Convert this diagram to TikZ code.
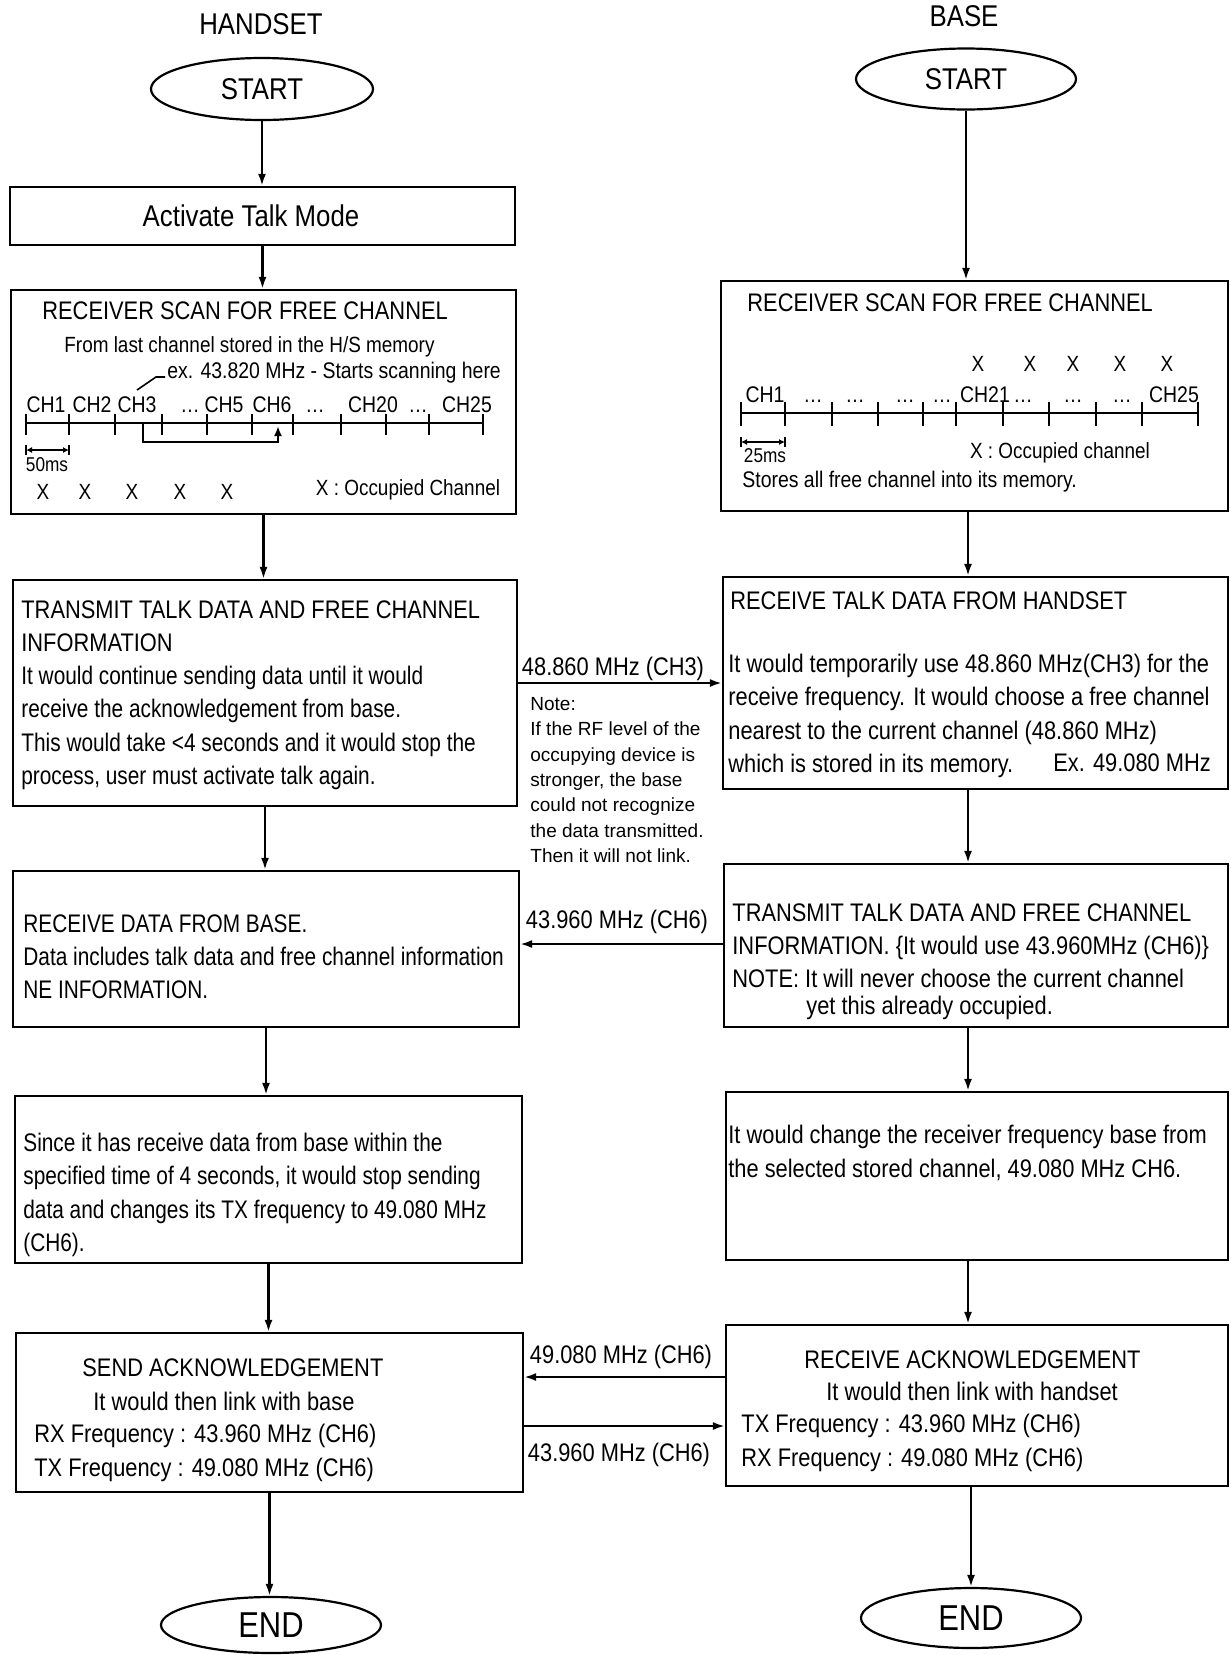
\documentclass[tikz,border=0pt]{standalone}
\usepackage{fontspec}
\setmainfont{Liberation Sans}[FakeStretch=0.86]
\newfontfamily\hsf{Liberation Sans}[FakeStretch=0.82]
\newfontfamily\notefont{Liberation Sans}
\usetikzlibrary{arrows.meta,shapes.geometric,fit}
\newcommand\fsz[2]{\fontsize{#1pt}{#2pt}\selectfont}
\begin{document}
\begin{tikzpicture}[x=0.5pt,y=-0.5pt,
  box/.style={draw,line width=1.1pt,inner sep=0pt},
  term/.style={draw,ellipse,line width=1.1pt,inner sep=0pt},
  arr/.style={line width=1.1pt,-{Latex[length=6pt,width=4pt]}},
  txt/.style={anchor=west,inner sep=0pt,align=left,font={\fsz{12.7}{16.6}}},
  lbl/.style={inner sep=0pt,font={\fsz{12.7}{16.6}}},
  sm/.style={inner sep=0pt,font={\fsz{11}{13}}},
  tiny/.style={inner sep=0pt,font={\fsz{10}{12}}},
  note/.style={anchor=west,inner sep=0pt,align=left,font={\notefont\fsz{9.5}{12.7}}},
  axis/.style={line width=1.1pt}]
\fill[white] (0,0) rectangle (1231,1655);
\useasboundingbox (0,0) rectangle (1231,1655);

% titles and terminals
\node[lbl,font={\fsz{15}{18}}] (hlab) at (261,24) {HANDSET};
\node[lbl,font={\fsz{15}{18}}] (blab) at (964,16) {BASE};
\node[term,minimum width=111pt,minimum height=31pt,font={\fsz{15}{18}}] (startH) at (262,89) {START};
\node[term,minimum width=110pt,minimum height=30.5pt,font={\fsz{15}{18}}] (startB) at (966,79) {START};
\node[term,minimum width=110pt,minimum height=28pt,font={\fsz{18}{20}}] (endH) at (271,1625) {END};
\node[term,minimum width=110pt,minimum height=30pt,font={\fsz{18}{20}}] (endB) at (971,1618) {END};

% activate
\node[box,fit={(10,187)(515,245)}] (act) {};
\node[lbl,font={\fsz{15}{18}}] (actT) at (251,216) {Activate Talk Mode};

% handset scan
\node[box,fit={(11,290)(516,514)}] (scanH) {};
\node[txt] (sH1) at (42,311) {RECEIVER SCAN FOR FREE CHANNEL};
\node[sm,anchor=west] (sH2) at (64,347) {From last channel stored in the H/S memory};
\node[sm,anchor=west,font={\fsz{11.3}{13}}] (sH3) at (167,373) {ex. 43.820 MHz - Starts scanning here};
\draw[line width=0.8pt] (137,390) -- (156,377) -- (165,377);
\foreach \x/\t [count=\i] in {46/CH1,92/CH2,137/CH3,190/\ldots,224/CH5,272/CH6,315/\ldots,373/CH20,418/\ldots,467/CH25}
  \node[sm,anchor=base,font={\fsz{11.3}{13}}] (hc\i) at (\x,412) {\t};
\draw[axis] (26,423) -- (483,423);
\foreach \x in {26,69,115,162,207,252,293,341,386,429,483}
  \draw[axis] (\x,414) -- (\x,435);
\draw[line width=1.1pt,-{Latex[length=5pt,width=4pt]}] (143,423) -- (143,442) -- (278,442) -- (278,426);
\draw[line width=0.7pt,{Latex[length=3pt,width=3pt]}-{Latex[length=3pt,width=3pt]}] (26,450) -- (69,450);
\draw[line width=0.7pt] (26,445) -- (26,455) (69,445) -- (69,455);
\node[tiny] (ms50) at (47,465) {50ms};
\foreach \x [count=\i] in {43,85,132,180,227}
  \node[sm] (hx\i) at (\x,492) {X};
\node[sm] (hocc) at (408,490) {X : Occupied Channel};

% base scan
\node[box,fit={(721,281)(1228,511)}] (scanB) {};
\node[txt] (sB1) at (747,303) {RECEIVER SCAN FOR FREE CHANNEL};
\foreach \x [count=\i] in {978,1030,1073,1120,1167}
  \node[sm] (bx\i) at (\x,364) {X};
\foreach \x/\t [count=\i] in {765/CH1,813/\ldots,855/\ldots,905/\ldots,942/\ldots,985/CH21,1023/\ldots,1073/\ldots,1122/\ldots,1174/CH25}
  \node[sm,anchor=base,font={\fsz{11.3}{13}}] (bc\i) at (\x,402) {\t};
\draw[axis] (741,413) -- (1198,413);
\foreach \x in {741,785,832,878,923,956,1003,1049,1096,1142,1198}
  \draw[axis] (\x,402) -- (\x,426);
\draw[line width=0.7pt,{Latex[length=3pt,width=3pt]}-{Latex[length=3pt,width=3pt]}] (741,442) -- (785,442);
\draw[line width=0.7pt] (741,437) -- (741,447) (785,437) -- (785,447);
\node[tiny] (ms25) at (765,456) {25ms};
\node[sm] (bocc) at (1060,453) {X : Occupied channel};
\node[sm,anchor=west,font={\fsz{11.3}{13}}] (bstore) at (742,482) {Stores all free channel into its memory.};

% row 2
\node[box,fit={(13,580)(517,806)}] (txH) {};
\node[txt] (txHt) at (21,695) {TRANSMIT TALK DATA AND FREE CHANNEL\\INFORMATION\\{\hsf It would continue sending data until it would}\\{\hsf receive the acknowledgement from base.}\\{\hsf This would take <4 seconds and it would stop the}\\{\hsf process, user must activate talk again.}};
\node[box,fit={(723,577)(1228,789)}] (rxB) {};
\node[txt] (rxB1) at (730,601) {RECEIVE TALK DATA FROM HANDSET};
\node[txt] (rxB2) at (728,716) {It would temporarily use 48.860 MHz(CH3) for the\\receive frequency. It would choose a free channel\\nearest to the current channel (48.860 MHz)\\which is stored in its memory.};
\node[txt] (rxB3) at (1053,763) {Ex. 49.080 MHz};

% row 3
\node[box,fit={(13,871)(519,1027)}] (rcvH) {};
\node[txt] (rcvHt) at (23,957) {{\hsf RECEIVE DATA FROM BASE.}\\{\hsf Data includes talk data and free channel information}\\{\hsf NE INFORMATION.}};
\node[box,fit={(724,864)(1228,1027)}] (txB) {};
\node[txt] (txBt) at (732,946) {TRANSMIT TALK DATA AND FREE CHANNEL\\INFORMATION. \{It would use 43.960MHz (CH6)\}\\NOTE: It will never choose the current channel};
\node[txt] (txBt2) at (806,1008) {yet this already occupied.};

% row 4
\node[box,fit={(15,1096)(522,1263)}] (sinceH) {};
\node[txt,font={\hsf\fsz{12.7}{16.6}}] (sinceHt) at (23,1195) {Since it has receive data from base within the\\specified time of 4 seconds, it would stop sending\\data and changes its TX frequency to 49.080 MHz\\(CH6).};
\node[box,fit={(726,1092)(1228,1260)}] (chgB) {};
\node[txt] (chgBt) at (728,1153) {It would change the receiver frequency base from\\the selected stored channel, 49.080 MHz CH6.};

% row 5
\node[box,fit={(16,1333)(523,1492)}] (sendH) {};
\node[txt] (sendH1) at (82,1368) {SEND ACKNOWLEDGEMENT};
\node[txt] (sendH2) at (93,1401) {It would then link with base};
\node[txt] (sendH3) at (34,1453) {RX Frequency : 43.960 MHz (CH6)\\TX Frequency : 49.080 MHz (CH6)};
\node[box,fit={(726,1325)(1228,1486)}] (ackB) {};
\node[txt] (ackB1) at (804,1360) {RECEIVE ACKNOWLEDGEMENT};
\node[txt] (ackB2) at (826,1391) {It would then link with handset};
\node[txt] (ackB3) at (741,1443) {TX Frequency : 43.960 MHz (CH6)\\RX Frequency : 49.080 MHz (CH6)};

% horizontal connectors
\coordinate (y1) at (0,683);
\draw[arr] (txH.east |- y1) -- (rxB.west |- y1);
\node[lbl] (f1) at (613,669) {48.860 MHz (CH3)};
\node[note] (note) at (530,780) {Note:\\If the RF level of the\\occupying device is\\stronger, the base\\could not recognize\\the data transmitted.\\Then it will not link.};
\coordinate (y2) at (0,944);
\draw[arr] (txB.west |- y2) -- (rcvH.east |- y2);
\node[lbl] (f2) at (617,922) {43.960 MHz (CH6)};
\coordinate (y3) at (0,1377);
\draw[arr] (ackB.west |- y3) -- (sendH.east |- y3);
\node[lbl] (f3) at (621,1357) {49.080 MHz (CH6)};
\coordinate (y4) at (0,1426);
\draw[arr] (sendH.east |- y4) -- (ackB.west |- y4);
\node[lbl] (f4) at (619,1455) {43.960 MHz (CH6)};

% vertical connectors handset
\draw[arr] (startH.south) -- (startH.south |- act.north);
\draw[arr] (act.south) -- (act.south |- scanH.north);
\draw[arr] (scanH.south) -- (scanH.south |- txH.north);
\draw[arr] (txH.south) -- (txH.south |- rcvH.north);
\draw[arr] (rcvH.south) -- (rcvH.south |- sinceH.north);
\draw[arr] (sinceH.south) -- (sinceH.south |- sendH.north);
\draw[arr] (sendH.south) -- (sendH.south |- endH.north);

% vertical connectors base
\coordinate (colB) at (968,0);
\draw[arr] (startB.south) -- (startB.south |- scanB.north);
\draw[arr] (scanB.south -| colB) -- (rxB.north -| colB);
\draw[arr] (rxB.south -| colB) -- (txB.north -| colB);
\draw[arr] (txB.south -| colB) -- (chgB.north -| colB);
\draw[arr] (chgB.south -| colB) -- (ackB.north -| colB);
\draw[arr] (ackB.south -| endB.north) -- (endB.north);
\end{tikzpicture}
\end{document}
